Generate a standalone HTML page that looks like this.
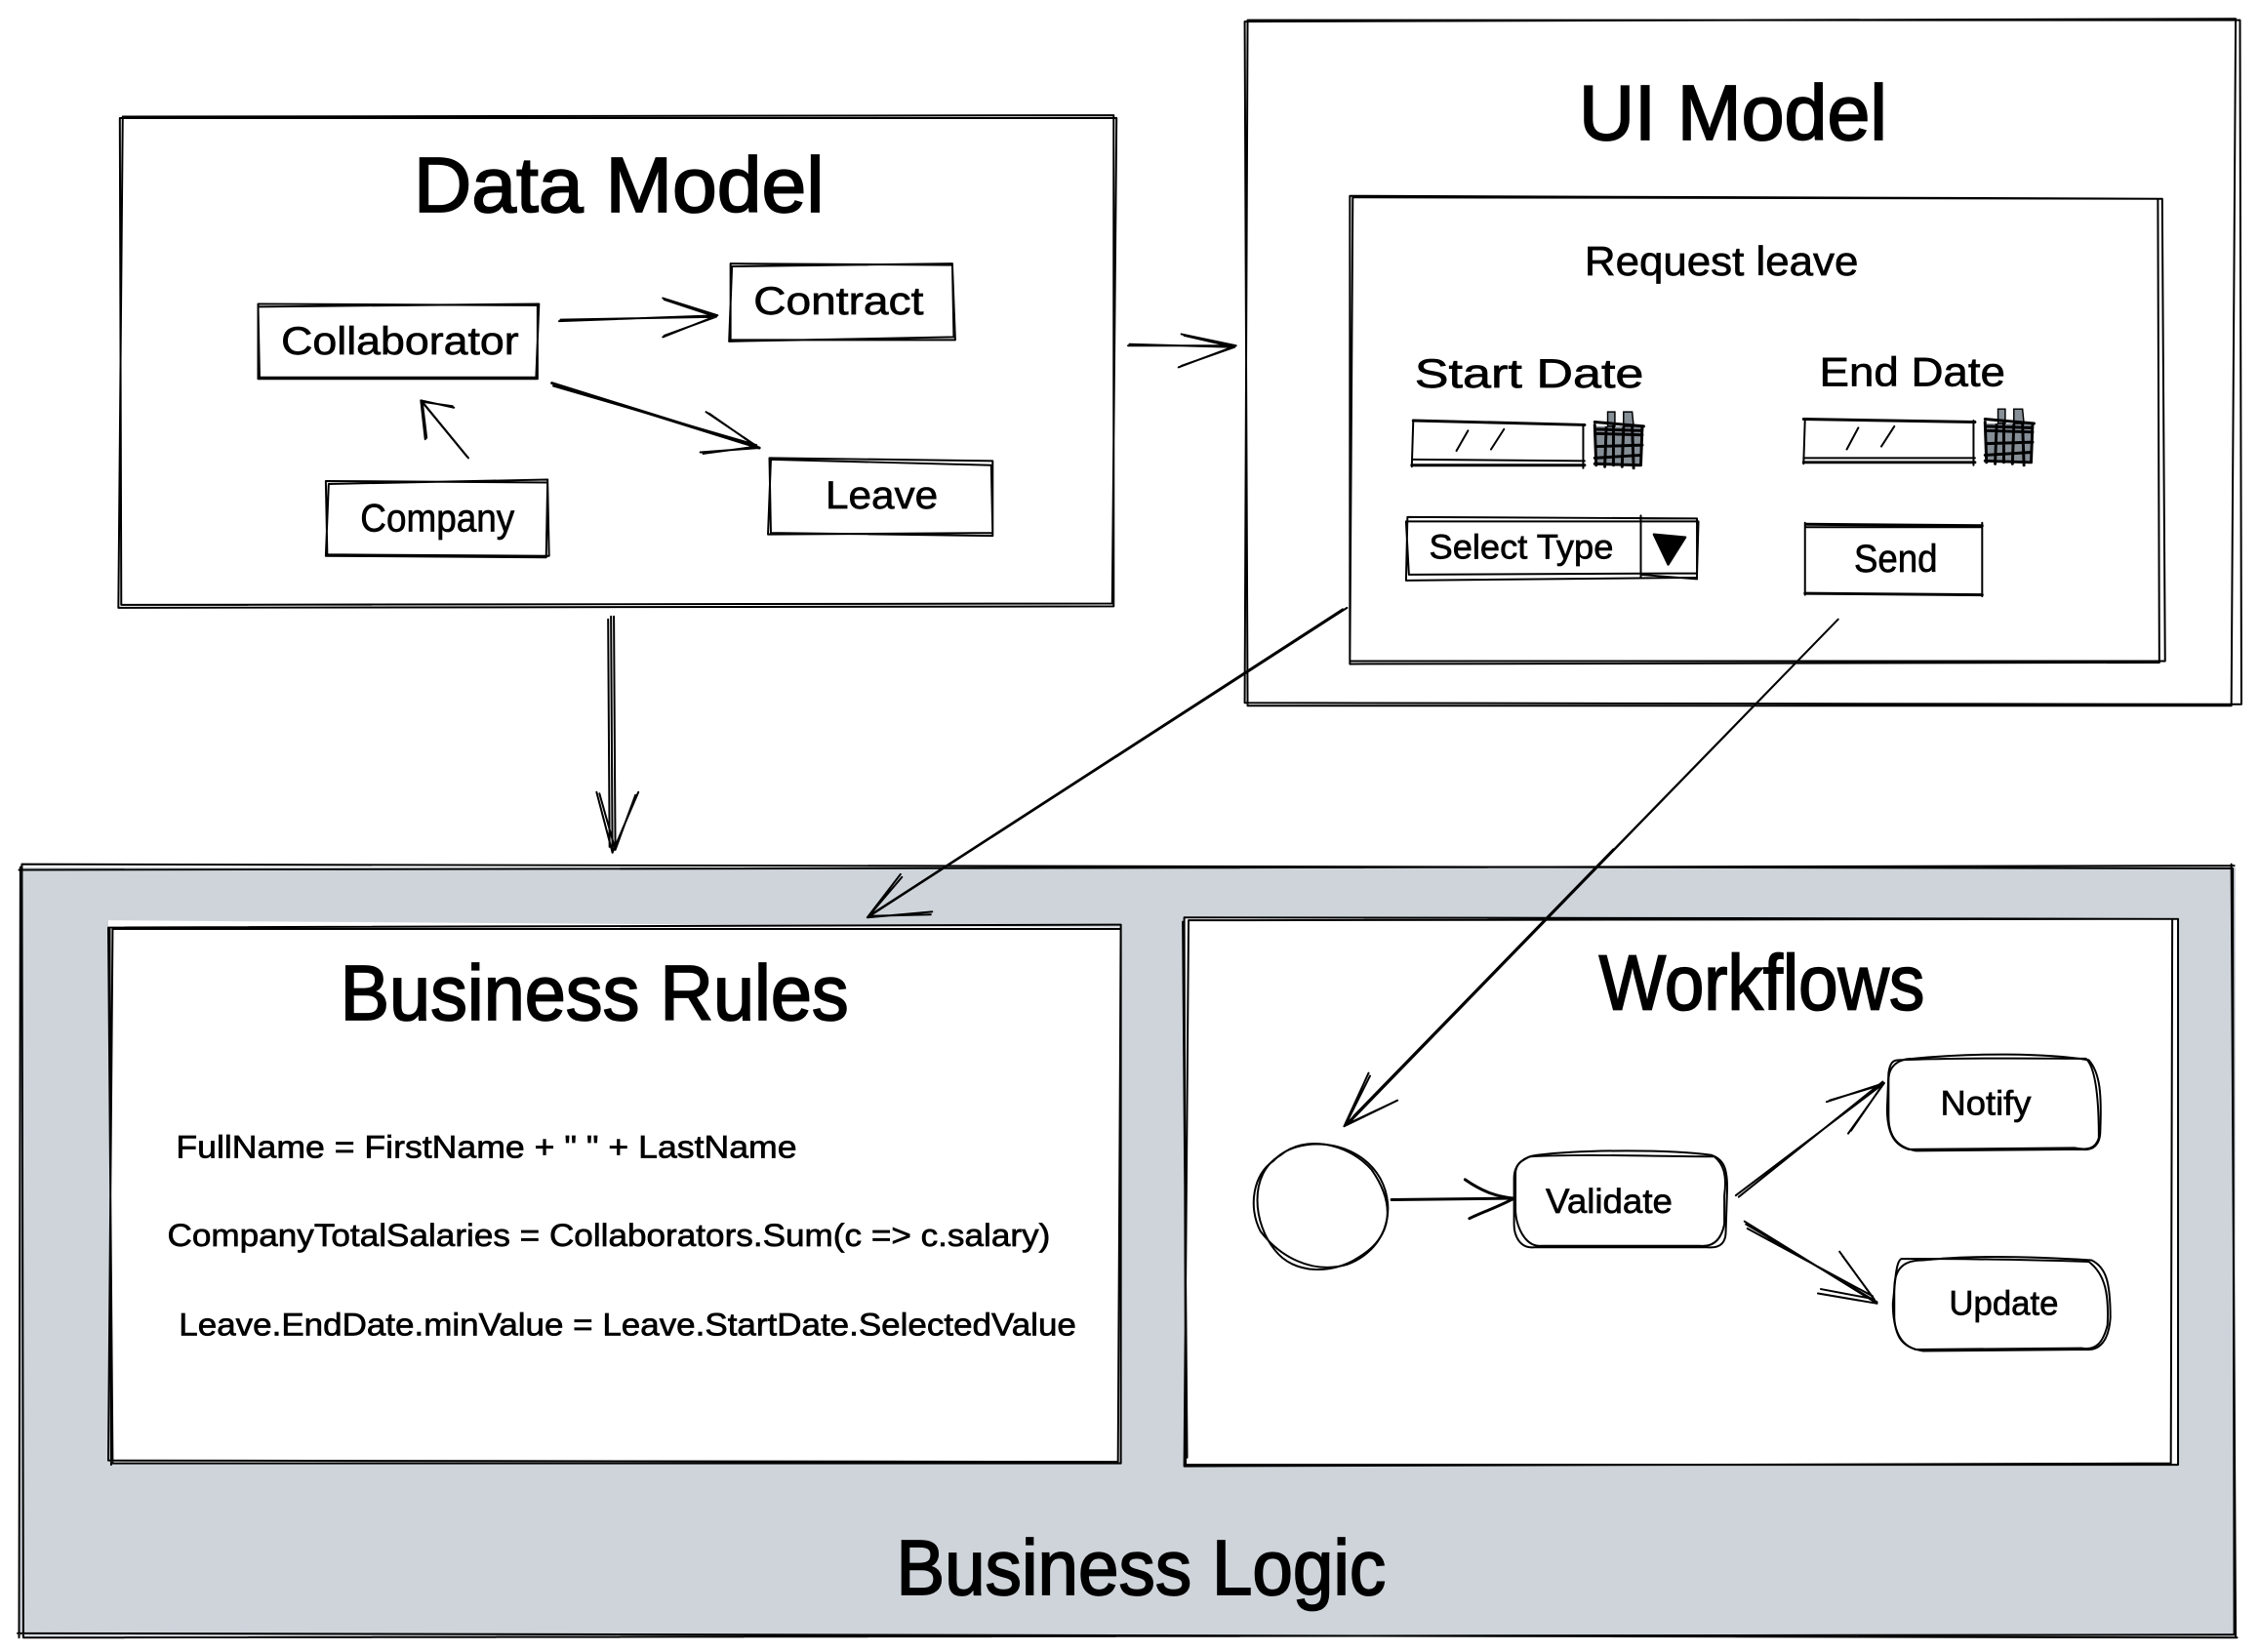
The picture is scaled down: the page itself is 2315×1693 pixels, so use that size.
<!DOCTYPE html>
<html><head><meta charset="utf-8"><style>
html,body{margin:0;padding:0;background:#fff}
svg{display:block}
.l{fill:none;stroke:#000;stroke-width:1.35;stroke-linecap:round;stroke-linejoin:round}
.h{fill:none;stroke:#000;stroke-width:2;stroke-linecap:round;stroke-linejoin:round}
text{font-family:"Liberation Sans",sans-serif;fill:#000;stroke:#000;stroke-width:.45}
.b{stroke-width:1.2}
</style></head><body>
<svg xmlns="http://www.w3.org/2000/svg" width="2315" height="1693" viewBox="0 0 1568 1147">
<rect width="1568" height="1147" fill="#fff"/>
<!-- Business Logic -->
<path d="M13 602L1552 602L1552 1136L13 1136Z" fill="#ced4da"/>
<path class="l" d="M15 600L1550 603L1551 1135L16 1137ZM13 604L1551 601M14 602L13 1137M1549 600L1552 1137M12 1134L1553 1137"/>
<!-- Business Rules -->
<path d="M75 639L777 644L777 1016L77 1016Z" fill="#fff"/>
<path class="l" d="M75 644L778 642L778 1016L78 1016L75 644ZM78 645L778 645L776 1015L75 1014ZM76 645L77 1017"/>
<!-- Workflows -->
<path d="M822 637L1512 637L1512 1017L822 1017Z" fill="#fff"/>
<path class="l" d="M822 637L1512 638L1512 1017L823 1017L822 637ZM825 639L1508 638L1507 1016L822 1018ZM821 640L824 1012"/>
<!-- Data Model -->
<path class="l" d="M85 81L773 80L773 421L82 422L85 81ZM83 82L775 82L772 419L84 420L83 82Z"/>
<!-- UI Model -->
<path class="l" d="M866 14L1555 14L1556 489L864 488L866 14ZM864 15L1552 13L1549 490L866 490L864 15Z"/>
<path class="l" d="M939 137L1501 138L1503 459L937 459L939 137ZM937 136L1498 138L1499 460L937 461L937 136Z"/>
<!-- small boxes -->
<path class="l" d="M179 211L373 212L373 263L179 263ZM179 213L374 211L372 262L180 262Z"/>
<path class="l" d="M507 183L661 184L663 236L507 236ZM508 185L661 183L662 234L506 237Z"/>
<path class="l" d="M226 334L380 335L381 386L227 385ZM228 336L380 333L379 387L226 386Z"/>
<path class="l" d="M534 318L689 320L689 372L535 370ZM535 319L688 323L689 370L533 371Z"/>
<!-- Data model arrows -->
<path class="l" d="M388 223L498 219M389 222L497 220M460 207L498 219L460 234M461 208L497 220L461 233"/>
<path class="h" d="M383 266L527 311"/><path class="l" d="M384 268L525 309M490 286L527 311L486 314M492 287L525 310L488 315"/>
<path class="l" d="M324 317L292 278M325 318L293 279M295 305L292 278L315 283M296 304L293 279L314 282"/>
<path class="l" d="M783 240L858 240M784 239L856 241M820 232L858 240L818 255M822 233L857 241L820 254"/>
<path class="l" d="M424 428L425 592M426 428L427 590M422 430L423 588M414 550L425 592L443 550M416 551L427 590L441 552"/>
<path class="l" d="M935 422L602 637M932 423L606 634M625 607L602 637L647 633M626 609L603 636L646 635"/>
<path class="l" d="M1276 430L933 782M1275 431L936 780M950 745L933 782L970 764M951 747L934 781L968 765"/>
<path class="h" d="M1120 590L940 775"/>
<!-- form -->
<path class="h" d="M981 292L1100 295M980 323L1100 323"/>
<path class="l" d="M981 292L980 324M1099 295L1099 325M981 319L1100 320M1011 313L1019 299M1035 312L1044 298"/>
<path class="h" d="M1252 291L1371 293M1252 321L1371 321"/>
<path class="l" d="M1253 291L1252 322M1370 292L1370 323M1252 318L1371 318M1282 312L1290 297M1306 310L1315 296"/>
<g id="cal">
<path d="M1108 296L1141 296L1139 323L1108 322Z" fill="#868e96"/>
<path d="M1116 286L1121 286L1121 296L1116 296ZM1127 286L1133 286L1134 296L1127 296Z" fill="#868e96" stroke="#000" stroke-width="1"/>
<path d="M1107 293L1141 296M1108 301L1140 302M1108 298L1139 299M1108 310L1140 309M1107 318L1139 316M1107 322L1138 323M1107 295L1108 323M1115 297L1114 324M1120 296L1120 323M1127 297L1126 324M1133 296L1134 325M1140 296L1139 323" class="h"/>
</g>
<g transform="translate(271,-2)"><path d="M1108 296L1141 296L1139 323L1108 322Z" fill="#868e96"/>
<path d="M1116 286L1121 286L1121 296L1116 296ZM1127 286L1133 286L1134 296L1127 296Z" fill="#868e96" stroke="#000" stroke-width="1"/>
<path d="M1107 293L1141 296M1108 301L1140 302M1108 298L1139 299M1108 310L1140 309M1107 318L1139 316M1107 322L1138 323M1107 295L1108 323M1115 297L1114 324M1120 296L1120 323M1127 297L1126 324M1133 296L1134 325M1140 296L1139 323" class="h"/></g>
<path class="l" d="M977 359L1178 360L1178 401L976 403L977 359ZM976 362L1179 362L1178 398L978 399ZM1139 358L1139 401M1139 399L1178 402M1138 360L1177 360"/>
<path d="M1148 371L1170 373L1158 392Z" fill="#000" stroke="#000" stroke-width="1.5" stroke-linejoin="round"/>
<path class="h" d="M1254 364L1376 365M1253 412L1376 413"/>
<path class="l" d="M1253 363L1253 413M1376 363L1376 414M1254 366L1375 366"/>
<!-- workflow -->
<path class="l" d="M889 802C905 788 935 793 952 812C968 835 968 858 943 873C925 885 898 885 885 868C870 850 866 815 889 802Z"/>
<path class="l" d="M884 806C900 788 942 790 958 818C970 840 962 868 935 878C910 885 888 872 875 855C866 838 870 815 884 806Z"/>
<path class="h" d="M966 833L1051 832"/><path class="h" d="M1017 819C1030 828 1040 831 1051 832C1040 838 1028 842 1020 846"/>
<path class="l" d="M1067 802C1100 798 1160 798 1188 802C1197 805 1199 812 1199 825L1198 855C1198 862 1195 867 1185 866L1065 866C1055 867 1051 858 1051 850L1051 818C1051 808 1058 803 1067 802Z"/>
<path class="l" d="M1062 803C1100 801 1150 803 1190 803C1196 808 1199 815 1197 830L1197 850C1195 860 1190 866 1180 865L1070 865C1058 866 1052 850 1052 840L1052 815C1052 808 1056 806 1062 803Z"/>
<path class="l" d="M1205 830L1308 752M1207 831L1307 751M1268 765L1308 752L1283 787M1270 764L1307 753L1285 785"/>
<path class="l" d="M1211 848L1303 905M1213 853L1300 900M1212 850L1303 904M1277 869L1303 905L1262 898M1279 872L1301 902L1264 895"/>
<path class="l" d="M1328 735C1370 731 1420 731 1450 736C1458 745 1459 760 1458 785C1458 795 1453 799 1445 798L1330 799C1318 797 1311 790 1311 775L1311 750C1311 740 1318 735 1328 735Z"/>
<path class="l" d="M1318 736C1370 734 1420 735 1448 735C1456 742 1457 770 1457 790C1455 797 1450 799 1440 797L1325 798C1314 795 1310 785 1310 770L1311 745C1312 738 1314 736 1318 736Z"/>
<path class="l" d="M1335 875C1370 871 1420 873 1452 875C1462 880 1465 890 1465 915C1464 930 1458 938 1448 937L1335 938C1322 936 1316 930 1315 915L1315 895C1315 880 1322 875 1335 875Z"/>
<path class="l" d="M1320 874C1370 874 1420 875 1450 876C1462 885 1464 900 1463 920C1460 932 1455 938 1445 936L1330 937C1320 934 1314 925 1314 905L1316 885C1317 878 1318 875 1320 874Z"/>
<!-- text -->
<text class="b" x="287" y="147" font-size="54" textLength="285" lengthAdjust="spacingAndGlyphs">Data Model</text>
<text class="b" x="1096" y="97" font-size="54" textLength="214" lengthAdjust="spacingAndGlyphs">UI Model</text>
<text x="1100" y="191" font-size="28" textLength="190" lengthAdjust="spacingAndGlyphs">Request leave</text>
<text x="982" y="269" font-size="28" textLength="159" lengthAdjust="spacingAndGlyphs">Start Date</text>
<text x="1263" y="268" font-size="28" textLength="129" lengthAdjust="spacingAndGlyphs">End Date</text>
<text x="992" y="388" font-size="24" textLength="128" lengthAdjust="spacingAndGlyphs">Select Type</text>
<text x="1287" y="397" font-size="27" textLength="58" lengthAdjust="spacingAndGlyphs">Send</text>
<text x="195" y="246" font-size="27" textLength="165" lengthAdjust="spacingAndGlyphs">Collaborator</text>
<text x="523" y="218" font-size="27" textLength="118" lengthAdjust="spacingAndGlyphs">Contract</text>
<text x="250" y="369" font-size="27" textLength="107" lengthAdjust="spacingAndGlyphs">Company</text>
<text x="573" y="353" font-size="27" textLength="78" lengthAdjust="spacingAndGlyphs">Leave</text>
<text class="b" x="236" y="708" font-size="54" textLength="353" lengthAdjust="spacingAndGlyphs">Business Rules</text>
<text class="b" x="1110" y="701" font-size="54" textLength="226" lengthAdjust="spacingAndGlyphs">Workflows</text>
<text x="122" y="804" font-size="22" textLength="431" lengthAdjust="spacingAndGlyphs">FullName = FirstName + " " + LastName</text>
<text x="116" y="865" font-size="22" textLength="613" lengthAdjust="spacingAndGlyphs">CompanyTotalSalaries = Collaborators.Sum(c =&gt; c.salary)</text>
<text x="124" y="927" font-size="22" textLength="623" lengthAdjust="spacingAndGlyphs">Leave.EndDate.minValue = Leave.StartDate.SelectedValue</text>
<text x="1073" y="842" font-size="24" textLength="88" lengthAdjust="spacingAndGlyphs">Validate</text>
<text x="1347" y="774" font-size="24" textLength="63" lengthAdjust="spacingAndGlyphs">Notify</text>
<text x="1353" y="913" font-size="24" textLength="76" lengthAdjust="spacingAndGlyphs">Update</text>
<text class="b" x="622" y="1107" font-size="54" textLength="340" lengthAdjust="spacingAndGlyphs">Business Logic</text>
</svg>
</body></html>
